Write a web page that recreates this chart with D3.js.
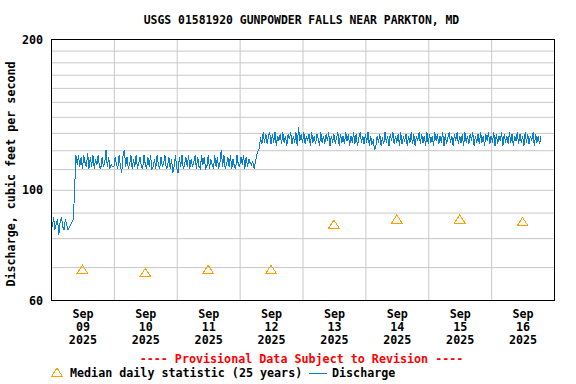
<!DOCTYPE html>
<html>
<head>
<meta charset="utf-8">
<script src="https://cdn.jsdelivr.net/npm/d3@7"></script>
<style>
body { margin: 0; background: #fff; }
text { font-family: "DejaVu Sans Mono", monospace; font-weight: bold; fill: #000; }
</style>
</head>
<body>
<script>
// Discharge, cfs, every 30 minutes starting at midnight of each day
var sep09 = [86, 84, 88, 83, 85, 87, 81, 86,
             88, 84, 83, 87, 85, 83, 84, 85,
             86, 87, 99, 117, 112, 117, 111, 116,
             110, 117, 113, 111, 118, 110, 116, 111,
             117, 110, 115, 112, 117, 111, 110, 116,
             111, 113, 120, 111, 116, 110, 112, 111];
var sep10 = [111, 116, 112, 110, 117, 111, 108, 117,
             120, 111, 116, 110, 112, 117, 110, 115,
             111, 117, 110, 113, 116, 111, 110, 117,
             112, 110, 116, 111, 117, 110, 111, 115,
             110, 117, 112, 110, 116, 111, 113, 117,
             110, 111, 116, 110, 115, 108, 111, 117];
var sep11 = [110, 108, 116, 111, 117, 110, 112, 116,
             111, 117, 110, 115, 111, 113, 117, 110,
             116, 111, 110, 117, 112, 116, 110, 111,
             117, 110, 115, 112, 110, 117, 111, 116,
             110, 113, 120, 111, 117, 110, 112, 116,
             111, 117, 110, 115, 111, 110, 117, 112];
var sep12 = [111, 116, 112, 117, 110, 116, 111, 115,
             113, 112, 114, 110, 113, 117, 119, 121,
             127, 123, 130, 124, 129, 123, 128, 130,
             123, 129, 124, 130, 122, 128, 125, 129,
             123, 130, 124, 128, 122, 129, 126, 130,
             123, 128, 124, 130, 122, 133, 125, 129];
var sep13 = [124, 130, 123, 128, 125, 129, 122, 130,
             124, 128, 123, 129, 126, 122, 130, 124,
             128, 123, 129, 125, 130, 122, 128, 124,
             129, 123, 127, 130, 122, 129, 124, 128,
             123, 130, 125, 129, 122, 128, 124, 130,
             123, 129, 122, 127, 130, 124, 128, 123];
var sep14 = [129, 124, 130, 122, 128, 123, 125, 120,
             122, 128, 124, 129, 122, 127, 123, 130,
             124, 128, 122, 129, 125, 130, 123, 128,
             124, 129, 122, 130, 123, 127, 125, 129,
             122, 128, 124, 130, 123, 129, 122, 128,
             125, 130, 123, 129, 124, 128, 122, 130];
var sep15 = [123, 129, 124, 128, 122, 130, 125, 129,
             123, 128, 124, 130, 122, 129, 123, 127,
             130, 124, 128, 122, 129, 125, 130, 123,
             128, 124, 129, 122, 130, 124, 128, 123,
             129, 125, 130, 122, 128, 124, 129, 123,
             130, 124, 128, 122, 129, 125, 130, 123];
var sep16 = [128, 124, 130, 122, 129, 123, 128, 125,
             130, 122, 129, 124, 128, 123, 130, 124,
             129, 122, 128, 125, 130, 123, 129, 124,
             128, 122, 130, 124, 129, 123, 128, 125,
             130, 122, 129, 124, 128, 123, 128];

// Median daily statistic (25 years), one per day
var medianDays = [9, 10, 11, 12, 13, 14, 15, 16];
var medianValues = [69, 68, 69, 69, 85, 87, 87, 86];

// tick labels
var dayLabels = ["09", "10", "11", "12", "13", "14", "15", "16"];
var monthLabel = "Sep";
var yearLabel = "2025";
var yLabels = [60, 100, 200];
var yGrid = [70, 80, 90, 100, 110, 120, 130, 140, 150, 160, 170, 180, 190];

var W = 576, H = 384;
var L = 51, R = 554, T = 39, B = 300;

var svg = d3.select("body").append("svg")
    .attr("width", W)
    .attr("height", H);

var x = d3.scaleUtc()
    .domain([new Date(Date.UTC(2025, 8, 9)), new Date(Date.UTC(2025, 8, 17))])
    .range([L, R]);
var y = d3.scaleLog()
    .domain([60, 200])
    .range([B, T]);

// build the discharge series
var values = [].concat(sep09, sep10, sep11, sep12, sep13, sep14, sep15, sep16);
var t0 = Date.UTC(2025, 8, 9);
var flow = values.map(function(v, i) {
  return {date: new Date(t0 + i * 30 * 60000), value: v};
});

// horizontal grid
svg.append("g")
    .attr("transform", "translate(" + L + ",0)")
    .call(d3.axisLeft(y).tickValues(yGrid).tickSize(-(R - L)).tickFormat(""))
    .call(function(g) {
      g.select(".domain").remove();
      g.selectAll("line").attr("stroke", "#c8c8c8").attr("transform", "translate(0,0.5)");
    });

// vertical grid at midnight
svg.append("g")
    .attr("transform", "translate(0," + B + ")")
    .call(d3.axisBottom(x)
      .tickValues(d3.utcDay.range(new Date(Date.UTC(2025, 8, 10)), new Date(Date.UTC(2025, 8, 17))))
      .tickSize(-(B - T)).tickFormat(""))
    .call(function(g) {
      g.select(".domain").remove();
      g.selectAll("line").attr("stroke", "#c8c8c8");
    });

// y tick labels
svg.append("g")
    .attr("transform", "translate(" + L + ",0)")
    .call(d3.axisLeft(y).tickValues(yLabels).tickSize(0).tickPadding(8).tickFormat(d3.format("d")))
    .call(function(g) {
      g.select(".domain").remove();
      g.selectAll("text")
        .attr("dy", null)
        .attr("y", 4.3)
        .style("font-size", "11.7px")
        .style("font-family", "DejaVu Sans Mono")
        .style("font-weight", "bold");
    });

// x tick labels at noon
var noon = medianDays.map(function(d) { return new Date(Date.UTC(2025, 8, d, 12)); });
var xl = svg.append("g")
    .attr("transform", "translate(0," + B + ")")
    .call(d3.axisBottom(x).tickValues(noon).tickSize(0).tickFormat(""));
xl.select(".domain").remove();
xl.selectAll(".tick text").remove();
xl.selectAll(".tick").each(function(d, i) {
  var t = d3.select(this).append("text")
      .attr("text-anchor", "middle")
      .style("font-size", "11.7px");
  t.append("tspan").attr("x", 0).attr("y", 18).text(monthLabel);
  t.append("tspan").attr("x", 0).attr("y", 31).text(dayLabels[i]);
  t.append("tspan").attr("x", 0).attr("y", 44).text(yearLabel);
});

// discharge line
svg.append("path")
    .datum(flow)
    .attr("fill", "none")
    .attr("stroke", "#0a7fd0")
    .attr("stroke-width", 1)
    .attr("shape-rendering", "crispEdges")
    .attr("d", d3.line()
      .x(function(d) { return x(d.date); })
      .y(function(d) { return y(d.value); }));

// median triangles
var tri = "M0,-4.5L5.5,4L-5.5,4Z";
svg.selectAll(".median")
    .data(medianValues)
    .enter().append("path")
    .attr("class", "median")
    .attr("d", tri)
    .attr("fill", "none")
    .attr("stroke", "#ffa000")
    .attr("stroke-width", 1)
    .attr("shape-rendering", "crispEdges")
    .attr("transform", function(d, i) {
      return "translate(" + x(noon[i]) + "," + y(d) + ")";
    });

// plot frame
svg.append("rect")
    .attr("x", L + 0.5)
    .attr("y", T + 0.5)
    .attr("width", R - L)
    .attr("height", B - T)
    .attr("fill", "none")
    .attr("stroke", "#000");

// title
svg.append("text")
    .attr("x", 301.5)
    .attr("y", 24)
    .attr("text-anchor", "middle")
    .style("font-size", "11.4px")
    .text("USGS 01581920 GUNPOWDER FALLS NEAR PARKTON, MD");

// y axis title
svg.append("text")
    .attr("transform", "translate(15,174) rotate(-90)")
    .attr("text-anchor", "middle")
    .style("font-size", "11.7px")
    .text("Discharge, cubic feet per second");

// provisional note
svg.append("text")
    .attr("x", 301.5)
    .attr("y", 363)
    .attr("text-anchor", "middle")
    .style("font-size", "11.7px")
    .style("fill", "#ff0000")
    .text("---- Provisional Data Subject to Revision ----");

// legend
svg.append("path")
    .attr("d", tri)
    .attr("fill", "none")
    .attr("stroke", "#ffa000")
    .attr("shape-rendering", "crispEdges")
    .attr("transform", "translate(57,372.5)");
svg.append("text")
    .attr("x", 70)
    .attr("y", 377)
    .style("font-size", "11.7px")
    .text("Median daily statistic (25 years)");
svg.append("line")
    .attr("x1", 309).attr("x2", 327)
    .attr("y1", 373.5).attr("y2", 373.5)
    .attr("stroke", "#0a7fd0");
svg.append("text")
    .attr("x", 332)
    .attr("y", 377)
    .style("font-size", "11.7px")
    .text("Discharge");
</script>
</body>
</html>
